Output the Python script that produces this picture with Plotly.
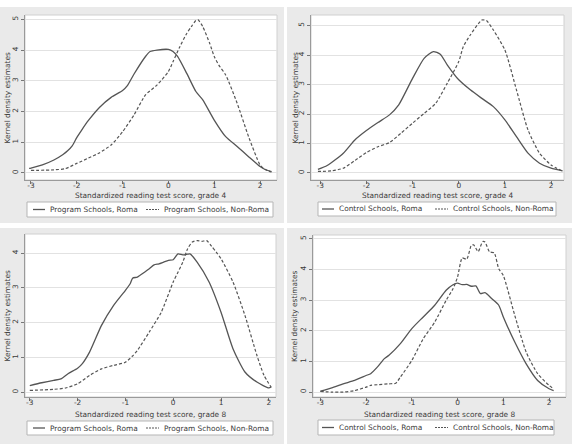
import plotly.graph_objects as go

# ---------------- data ----------------
# Panel A: Program schools, grade 4
pa_roma_x = [-3.04, -3.0, -2.75, -2.5, -2.3, -2.2, -2.1, -2.0, -1.9, -1.75, -1.5, -1.25, -1.0, -0.9, -0.75, -0.5, -0.4, -0.25,
             0.0, 0.1, 0.2, 0.4, 0.6, 0.75, 1.0, 1.25, 1.5, 1.75, 2.0, 2.1, 2.25]
pa_roma_y = [0.15, 0.16, 0.26, 0.42, 0.6, 0.72, 0.88, 1.15, 1.38, 1.7, 2.14, 2.46, 2.68, 2.83, 3.22, 3.79, 3.95, 4.0,
             4.02, 3.95, 3.79, 3.24, 2.65, 2.38, 1.72, 1.18, 0.86, 0.53, 0.21, 0.12, 0.04]
pa_non_x = [-3.0, -2.5, -2.25, -2.0, -1.75, -1.5, -1.25, -1.0, -0.75, -0.5, -0.25, 0.0, 0.1, 0.25, 0.4, 0.5,
            0.6, 0.65, 0.75, 0.9, 1.0, 1.1, 1.25, 1.5, 1.75, 2.0, 2.1, 2.25]
pa_non_y = [0.08, 0.1, 0.14, 0.31, 0.48, 0.66, 0.91, 1.34, 1.89, 2.54, 2.86, 3.3, 3.62, 4.11, 4.54, 4.76,
            4.96, 4.98, 4.76, 4.22, 3.79, 3.51, 3.19, 2.27, 1.18, 0.26, 0.12, 0.03]

# Panel B: Control schools, grade 4
pb_roma_x = [-3.05, -2.85, -2.5, -2.25, -2.0, -1.75, -1.5, -1.3, -1.0, -0.75, -0.55, -0.4, -0.25, 0.0, 0.25,
             0.5, 0.75, 1.0, 1.25, 1.5, 1.75, 2.0, 2.25]
pb_roma_y = [0.12, 0.25, 0.67, 1.12, 1.44, 1.71, 1.97, 2.31, 3.21, 3.89, 4.12, 4.03, 3.67, 3.16, 2.82,
             2.53, 2.25, 1.8, 1.23, 0.67, 0.33, 0.16, 0.07]
pb_non_x = [-3.05, -2.75, -2.5, -2.25, -2.0, -1.75, -1.5, -1.25, -1.0, -0.75, -0.5, -0.25, 0.0, 0.1, 0.25,
            0.5, 0.6, 0.75, 1.0, 1.25, 1.5, 1.75, 2.0, 2.25]
pb_non_y = [0.05, 0.07, 0.16, 0.42, 0.69, 0.89, 1.03, 1.35, 1.69, 2.02, 2.36, 3.04, 3.78, 4.29, 4.68,
            5.19, 5.17, 4.85, 4.17, 2.82, 1.46, 0.67, 0.27, 0.06]

# Panel C: Program schools, grade 8
pc_roma_x = [-3.0, -2.75, -2.5, -2.35, -2.2, -2.0, -1.9, -1.75, -1.5, -1.25, -1.0, -0.9, -0.85, -0.75, -0.6,
             -0.5, -0.4, -0.3, -0.2, -0.1, 0.0, 0.1, 0.2, 0.3, 0.35, 0.5, 0.75, 1.0, 1.25, 1.5, 1.75, 2.0, 2.05]
pc_roma_y = [0.19, 0.27, 0.34, 0.38, 0.53, 0.69, 0.82, 1.15, 1.92, 2.49, 2.93, 3.12, 3.28, 3.31, 3.45,
             3.55, 3.66, 3.69, 3.74, 3.79, 3.81, 3.98, 3.95, 3.97, 3.98, 3.74, 3.17, 2.3, 1.25, 0.58, 0.29, 0.12, 0.15]
pc_non_x = [-3.0, -2.5, -2.25, -2.0, -1.75, -1.5, -1.25, -1.0, -0.85, -0.75, -0.5, -0.25, 0.0, 0.1, 0.2,
            0.3, 0.4, 0.5, 0.6, 0.7, 0.8, 0.9, 1.0, 1.25, 1.5, 1.75, 1.9, 2.05]
pc_non_y = [0.05, 0.08, 0.12, 0.24, 0.48, 0.67, 0.77, 0.86, 1.04, 1.2, 1.73, 2.3, 3.17, 3.45, 3.74,
            4.12, 4.32, 4.36, 4.34, 4.36, 4.2, 4.03, 3.84, 3.17, 2.21, 1.06, 0.48, 0.14]

# Panel D: Control schools, grade 8
pd_roma_x = [-3.0, -2.75, -2.5, -2.25, -2.0, -1.9, -1.75, -1.6, -1.5, -1.25, -1.0, -0.75, -0.5, -0.25, -0.1,
             0.0, 0.1, 0.2, 0.3, 0.4, 0.5, 0.6, 0.75, 0.9, 1.0, 1.25, 1.5, 1.75, 2.0, 2.1]
pd_roma_y = [0.03, 0.14, 0.27, 0.38, 0.54, 0.6, 0.82, 1.09, 1.2, 1.58, 2.07, 2.45, 2.83, 3.32, 3.5,
             3.55, 3.5, 3.51, 3.45, 3.46, 3.21, 3.24, 3.04, 2.83, 2.45, 1.63, 0.92, 0.38, 0.11, 0.05]
pd_non_x = [-3.0, -2.75, -2.5, -2.25, -2.0, -1.9, -1.75, -1.5, -1.35, -1.25, -1.0, -0.75, -0.5, -0.25, -0.1,
            0.0, 0.1, 0.2, 0.3, 0.35, 0.45, 0.55, 0.6, 0.7, 0.8, 0.9, 1.0, 1.25, 1.5, 1.75, 2.0, 2.1]
pd_non_y = [0.02, 0.0, 0.0, 0.05, 0.16, 0.22, 0.24, 0.27, 0.29, 0.49, 1.03, 1.74, 2.28, 2.99, 3.37,
            3.75, 4.37, 4.33, 4.78, 4.8, 4.58, 4.91, 4.89, 4.57, 4.54, 4.02, 3.8, 2.5, 1.3, 0.6, 0.22, 0.11]

x_tickvals = [-3, -2, -1, 0, 1, 2]
x_ticktext = ["-3", "-2", "-1", "0", "1", "2"]
y_tickvals_5 = [0, 1, 2, 3, 4, 5]
y_tickvals_4 = [0, 1, 2, 3, 4]

y_title = "Kernel density estimates"
x_title_g4 = "Standardized reading test score, grade 4"
x_title_g8 = "Standardized reading test score, grade 8"
legend_labels = [
    ("Program Schools, Roma", "Program Schools, Non-Roma"),
    ("Control Schools, Roma", "Control Schools, Non-Roma"),
    ("Program Schools, Roma", "Program Schools, Non-Roma"),
    ("Control Schools, Roma", "Control Schools, Non-Roma"),
]

# ---------------- layout geometry (pixels) ----------------
W, H = 572, 444
FONT = "DejaVu Sans"
FS = 7.4
TXT = "#3a3a3a"
LINE = "#555555"
BG = "#eaeaea"

panels = [
    dict(bg=(0, 7, 284, 223), plot=(25, 15, 277, 180), xr=[-3.13, 2.37], yr=[-0.23, 5.14], yt=y_tickvals_5,
         xt=x_title_g4, xty=195.5, ytx=7, leg=(27, 202, 273, 217), k1=33, t1=48, k2=146, t2=162,
         data=(pa_roma_x, pa_roma_y, pa_non_x, pa_non_y)),
    dict(bg=(287, 7, 572, 223), plot=(311, 15, 564, 180), xr=[-3.2, 2.28], yr=[-0.24, 5.36], yt=y_tickvals_5,
         xt=x_title_g4, xty=195.5, ytx=295, leg=(318, 202, 556, 216), k1=322, t1=337, k2=435, t2=451,
         data=(pb_roma_x, pb_roma_y, pb_non_x, pb_non_y)),
    dict(bg=(0, 228, 284, 444), plot=(25, 234, 276, 397), xr=[-3.10, 2.15], yr=[-0.14, 4.55], yt=y_tickvals_4,
         xt=x_title_g8, xty=414, ytx=7, leg=(27, 421, 273, 435), k1=33, t1=48, k2=146, t2=162,
         data=(pc_roma_x, pc_roma_y, pc_non_x, pc_non_y)),
    dict(bg=(287, 228, 572, 444), plot=(313, 235, 566, 397), xr=[-3.16, 2.37], yr=[-0.16, 5.12], yt=y_tickvals_5,
         xt=x_title_g8, xty=414, ytx=294, leg=(318, 420, 554, 435), k1=322, t1=337, k2=435, t2=451,
         data=(pd_roma_x, pd_roma_y, pd_non_x, pd_non_y)),
]


def px(x):
    return x / W


def py(y):
    return 1 - y / H


fig = go.Figure()
shapes = []
annotations = []
layout_axes = {}

for i, p in enumerate(panels, start=1):
    xa = "x" if i == 1 else f"x{i}"
    ya = "y" if i == 1 else f"y{i}"
    rx, ry, nx, ny = p["data"]
    lab_r, lab_n = legend_labels[i - 1]
    fig.add_trace(go.Scatter(x=rx, y=ry, mode="lines", name=lab_r, xaxis=xa, yaxis=ya,
                             line=dict(color=LINE, width=1.3, shape="spline", smoothing=0.6),
                             showlegend=False))
    fig.add_trace(go.Scatter(x=nx, y=ny, mode="lines", name=lab_n, xaxis=xa, yaxis=ya,
                             line=dict(color=LINE, width=1.2, dash="3px,2px", shape="spline", smoothing=0.6),
                             showlegend=False))

    x0, y0, x1, y1 = p["plot"]
    xkey = "xaxis" if i == 1 else f"xaxis{i}"
    ykey = "yaxis" if i == 1 else f"yaxis{i}"
    layout_axes[xkey] = dict(domain=[px(x0), px(x1)], anchor=ya, range=p["xr"],
                             tickvals=x_tickvals, ticktext=x_ticktext, ticks="outside", ticklen=3,
                             ticklabelstandoff=-5,
                             tickcolor="#777777", showgrid=False, zeroline=False,
                             showline=True, linecolor="#9a9a9a", linewidth=1,
                             tickfont=dict(family=FONT, size=FS, color=TXT), fixedrange=True)
    layout_axes[ykey] = dict(domain=[py(y1), py(y0)], anchor=xa, range=p["yr"],
                             tickvals=p["yt"], ticks="outside", ticklen=3, tickangle=-90,
                             tickcolor="#777777", showgrid=True, gridcolor="#e2e2e2", gridwidth=1,
                             zeroline=False, showline=True, linecolor="#9a9a9a", linewidth=1,
                             tickfont=dict(family=FONT, size=FS, color=TXT), fixedrange=True)

    bx0, by0, bx1, by1 = p["bg"]
    shapes.append(dict(type="rect", xref="paper", yref="paper", x0=px(bx0), x1=px(bx1),
                       y0=py(by1), y1=py(by0), fillcolor=BG, line=dict(width=0), layer="below"))
    shapes.append(dict(type="rect", xref="paper", yref="paper", x0=px(x0), x1=px(x1),
                       y0=py(y1), y1=py(y0), fillcolor="white",
                       line=dict(width=1, color="#d0d0d0"), layer="below"))

    annotations.append(dict(text=p["xt"], xref="paper", yref="paper", x=px((x0 + x1) / 2), y=py(p["xty"]),
                            xanchor="center", yanchor="middle", showarrow=False,
                            font=dict(family=FONT, size=FS, color=TXT)))
    annotations.append(dict(text=y_title, xref="paper", yref="paper", x=px(p["ytx"]), y=py((y0 + y1) / 2),
                            xanchor="center", yanchor="middle", showarrow=False, textangle=-90,
                            font=dict(family=FONT, size=FS, color=TXT)))

    lx0, ly0, lx1, ly1 = p["leg"]
    lyc = (ly0 + ly1) / 2
    shapes.append(dict(type="rect", xref="paper", yref="paper", x0=px(lx0), x1=px(lx1),
                       y0=py(ly1), y1=py(ly0), fillcolor="white",
                       line=dict(width=1, color="#b5b5b5")))
    shapes.append(dict(type="line", xref="paper", yref="paper", x0=px(p["k1"]), x1=px(p["k1"] + 12),
                       y0=py(lyc), y1=py(lyc), line=dict(color=LINE, width=1.3)))
    shapes.append(dict(type="line", xref="paper", yref="paper", x0=px(p["k2"]), x1=px(p["k2"] + 13),
                       y0=py(lyc), y1=py(lyc), line=dict(color=LINE, width=1.1, dash="2px,1px")))
    annotations.append(dict(text=lab_r, xref="paper", yref="paper", x=px(p["t1"]), y=py(lyc),
                            xanchor="left", yanchor="middle", showarrow=False,
                            font=dict(family=FONT, size=FS, color=TXT)))
    annotations.append(dict(text=lab_n, xref="paper", yref="paper", x=px(p["t2"]), y=py(lyc),
                            xanchor="left", yanchor="middle", showarrow=False,
                            font=dict(family=FONT, size=FS, color=TXT)))

fig.update_layout(
    width=W, height=H,
    margin=dict(l=0, r=0, t=0, b=0),
    paper_bgcolor="white", plot_bgcolor="rgba(0,0,0,0)",
    shapes=shapes, annotations=annotations,
    showlegend=False,
    **layout_axes,
)

fig.write_html("out.html", config={"displayModeBar": False})
